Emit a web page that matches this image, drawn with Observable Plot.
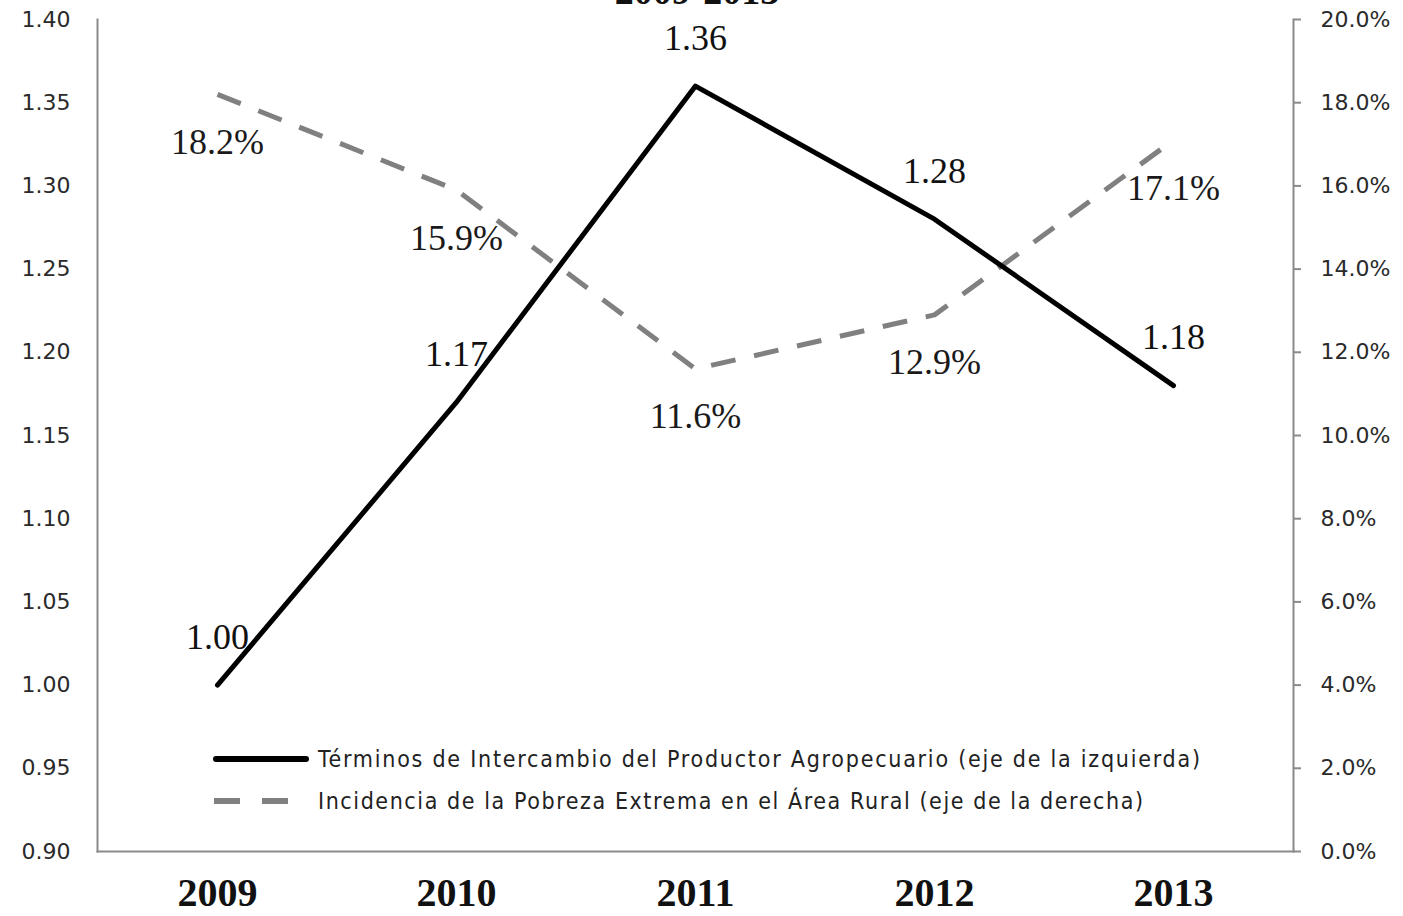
<!DOCTYPE html>
<html>
<head>
<meta charset="utf-8">
<script src="https://cdn.jsdelivr.net/npm/d3@7"></script>
<script src="https://cdn.jsdelivr.net/npm/@observablehq/plot@0.6"></script>
<style>
  html, body { margin: 0; padding: 0; background: white; overflow: hidden; }
  #wrap { position: relative; width: 1403px; height: 916px; }
  #overlay { position: absolute; left: 0; top: 0; pointer-events: none; }
</style>
</head>
<body>
<div id="wrap">
  <div id="chart"></div>
  <svg id="overlay" width="1403" height="916"></svg>
</div>
<script>
// ---- data ----
const years = [2009, 2010, 2011, 2012, 2013];
const terminos = [1.00, 1.17, 1.36, 1.28, 1.18];          // left axis
const pobreza = [18.2, 15.9, 11.6, 12.9, 17.1];           // right axis, %
const leftTicks = [0.90, 0.95, 1.00, 1.05, 1.10, 1.15, 1.20, 1.25, 1.30, 1.35, 1.40];
const rightTicks = [0, 2, 4, 6, 8, 10, 12, 14, 16, 18, 20];
const title = "2009-2013";
const legendLabels = [
  "Términos de Intercambio del Productor Agropecuario (eje de la izquierda)",
  "Incidencia de la Pobreza Extrema en el Área Rural (eje de la derecha)"
];

// map right-axis (percent 0..20) onto the left-axis domain (0.90..1.40)
const leftDomain = [0.90, 1.40];
const rightDomain = [0, 20];
const toLeft = p => leftDomain[0] + (p - rightDomain[0]) / (rightDomain[1] - rightDomain[0]) * (leftDomain[1] - leftDomain[0]);
const toRight = v => rightDomain[0] + (v - leftDomain[0]) / (leftDomain[1] - leftDomain[0]) * (rightDomain[1] - rightDomain[0]);

const tData = years.map((y, i) => ({year: y, v: terminos[i]}));
const pData = years.map((y, i) => ({year: y, p: pobreza[i], v: toLeft(pobreza[i])}));

const serif = "'Liberation Serif', 'DejaVu Serif', serif";
const sans = "'DejaVu Sans', sans-serif";

const chart = Plot.plot({
  width: 1403,
  height: 916,
  marginLeft: 97,
  marginRight: 110,
  marginTop: 19,
  marginBottom: 65,
  style: {background: "white", fontFamily: sans, color: "#222"},
  x: {type: "point", domain: years, padding: 0.5},
  y: {domain: leftDomain},
  marks: [
    Plot.frame({anchor: "left", stroke: "#8a8a8a", strokeWidth: 2}),
    Plot.frame({anchor: "right", stroke: "#8a8a8a", strokeWidth: 2}),
    Plot.frame({anchor: "bottom", stroke: "#8a8a8a", strokeWidth: 2}),
    Plot.axisY({
      anchor: "left", ticks: leftTicks, tickSize: 0, tickPadding: 27,
      tickFormat: d => d.toFixed(2), fontSize: 22, fill: "#2a2a2a", label: null
    }),
    Plot.axisY({
      anchor: "right", ticks: rightTicks.map(toLeft), tickSize: 7, tickPadding: 20,
      tickFormat: d => toRight(d).toFixed(1) + "%", fontSize: 22,
      stroke: "#8a8a8a", strokeWidth: 2, fill: "#2a2a2a", label: null
    }),
    Plot.axisX({
      tickSize: 0, tickPadding: 26, fontSize: 40, fontWeight: "bold",
      fontFamily: serif, fill: "#111", label: null, tickFormat: d => String(d)
    }),
    Plot.line(pData, {
      x: "year", y: "v", stroke: "#808080", strokeWidth: 5,
      strokeDasharray: "25,19", strokeLinecap: "butt"
    }),
    Plot.line(tData, {x: "year", y: "v", stroke: "#000", strokeWidth: 5}),
    Plot.text(tData, {
      x: "year", y: "v", text: d => d.v.toFixed(2), dy: -48,
      fontSize: 36, fontFamily: serif, fill: "#111"
    }),
    Plot.text(pData, {
      x: "year", y: "v", text: d => d.p.toFixed(1) + "%", dy: 48,
      fontSize: 36, fontFamily: serif, fill: "#1a1a1a"
    })
  ]
});
document.getElementById("chart").appendChild(chart);

// ---- title (cut off at top, as in the source) and legend overlay ----
const ov = d3.select("#overlay");
ov.append("text")
  .attr("x", 697).attr("y", 4)
  .attr("text-anchor", "middle")
  .attr("font-family", serif).attr("font-weight", "bold").attr("font-size", 38)
  .attr("fill", "#111")
  .text(title);

const legendFont = "'Liberation Sans Narrow', 'DejaVu Sans Condensed', 'Liberation Sans', sans-serif";
const lg = ov.append("g");
lg.append("line").attr("x1", 216).attr("x2", 306).attr("y1", 759).attr("y2", 759)
  .attr("stroke", "#000").attr("stroke-width", 6).attr("stroke-linecap", "round");
lg.append("line").attr("x1", 214).attr("x2", 292).attr("y1", 801).attr("y2", 801)
  .attr("stroke", "#808080").attr("stroke-width", 6).attr("stroke-dasharray", "26,22");
lg.append("text").attr("x", 318).attr("y", 767)
  .attr("font-family", legendFont).attr("font-size", 23).attr("fill", "#222")
  .attr("textLength", 882).attr("lengthAdjust", "spacing")
  .text(legendLabels[0]);
lg.append("text").attr("x", 318).attr("y", 809)
  .attr("font-family", legendFont).attr("font-size", 23).attr("fill", "#222")
  .attr("textLength", 825).attr("lengthAdjust", "spacing")
  .text(legendLabels[1]);
</script>
</body>
</html>
